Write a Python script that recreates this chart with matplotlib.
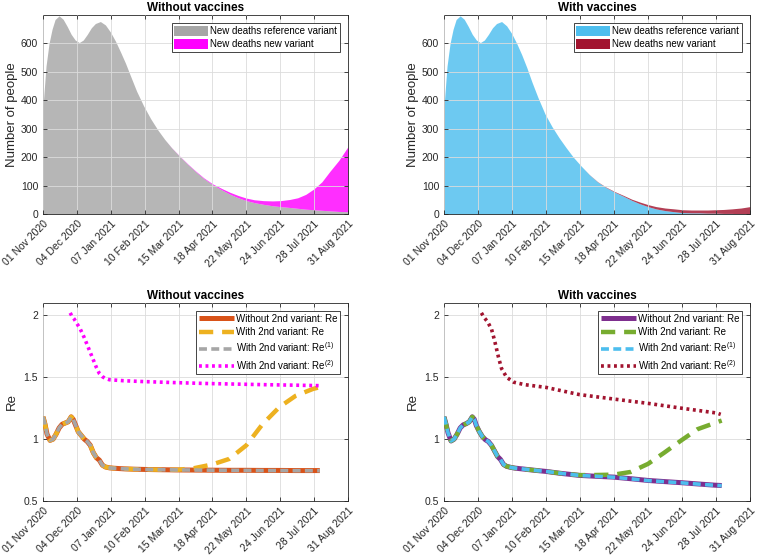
import numpy as np
import pandas as pd
import matplotlib
matplotlib.use("Agg")
import matplotlib.pyplot as plt
from matplotlib.patches import Patch

plt.rcParams['font.family'] = ['Liberation Sans', 'DejaVu Sans']
plt.rcParams['mathtext.fontset'] = 'custom'
plt.rcParams['mathtext.rm'] = 'Liberation Sans'
plt.rcParams['mathtext.it'] = 'Liberation Sans:italic'

# ---- data (days counted from 01 Nov 2020) ----
start = pd.Timestamp('2020-11-01')
end = pd.Timestamp('2021-08-31')

day_deaths = [0, 3, 6, 9, 12, 16, 20, 24, 28, 32, 36, 40, 44, 48, 52, 57, 62, 67,
              72, 77, 82, 87, 93, 100, 107, 114, 121, 128, 136, 144, 152, 160, 169,
              178, 186, 194, 202, 210, 219, 228, 236, 245, 253, 261, 269, 277, 285,
              294, 303]

ref_deaths_novax = [378, 520, 600, 650, 684, 697, 685, 660, 632, 612, 603, 612, 632,
                    655, 670, 677, 665, 640, 608, 570, 530, 485, 432, 380, 335, 296,
                    262, 232, 202, 174, 148, 124, 102, 84, 69, 57, 47, 40, 34, 29, 26,
                    23, 20, 17, 15, 13, 11, 9, 8]
new_deaths_novax = [0, 0, 0, 0, 0, 0, 0, 0, 0, 0, 0, 0, 0, 0, 0, 0, 0, 0, 0, 0, 0,
                    0, 0, 0, 0, 0, 0, 0.5, 1, 1.5, 2, 2.5, 3, 5, 7, 8, 9, 10, 13, 17,
                    21, 28, 37, 52, 73, 100, 139, 180, 229]

ref_deaths_vax = [378, 520, 600, 650, 684, 697, 685, 660, 632, 612, 603, 612, 632,
                  655, 670, 677, 662, 635, 600, 560, 515, 465, 410, 352, 307, 268,
                  233, 200, 168, 138, 113, 94, 77, 62, 48, 36, 26, 18, 12, 8, 5, 4,
                  4, 3, 3, 2, 2, 1, 1]
new_deaths_vax = [0, 0, 0, 0, 0, 0, 0, 0, 0, 0, 0, 0, 0, 0, 0, 0, 0, 0, 0, 0, 0, 0,
                  0, 0, 0, 0, 0, 0, 0, 0.5, 1, 1.5, 2, 3, 4, 6, 7, 8, 9, 10, 10, 10,
                  10, 11, 12, 14, 16, 20, 25]

day_re = [0, 2, 4, 7, 10, 13, 16, 19, 22, 25, 28, 30, 32, 35, 38, 41, 44, 47, 50, 53,
          56, 59, 62, 66, 70, 80, 90, 101, 115, 134, 150, 168, 185, 202, 218, 235,
          251, 268, 275]

re_base_novax = [1.18, 1.12, 1.04, 0.99, 1.00, 1.04, 1.09, 1.12, 1.13, 1.14, 1.18,
                 1.16, 1.12, 1.06, 1.03, 1.00, 0.98, 0.95, 0.89, 0.85, 0.83, 0.79,
                 0.775, 0.768, 0.765, 0.76, 0.757, 0.755, 0.753, 0.751, 0.75, 0.749,
                 0.748, 0.748, 0.747, 0.747, 0.746, 0.746, 0.746]
re_2nd_novax = [1.18, 1.12, 1.04, 0.99, 1.00, 1.04, 1.09, 1.12, 1.13, 1.14, 1.18,
                1.16, 1.12, 1.06, 1.03, 1.00, 0.98, 0.95, 0.89, 0.85, 0.83, 0.79,
                0.775, 0.768, 0.765, 0.76, 0.757, 0.755, 0.753, 0.752, 0.765, 0.795,
                0.84, 0.95, 1.12, 1.26, 1.35, 1.405, 1.42]
re1_novax = [1.18, 1.12, 1.04, 0.99, 1.00, 1.04, 1.09, 1.12, 1.13, 1.14, 1.18,
             1.16, 1.12, 1.06, 1.03, 1.00, 0.98, 0.95, 0.89, 0.85, 0.83, 0.79,
             0.775, 0.768, 0.765, 0.76, 0.757, 0.755, 0.753, 0.751, 0.75, 0.749,
             0.748, 0.747, 0.746, 0.746, 0.745, 0.745, 0.745]
day_re2_novax = [27, 29, 31, 34, 37, 41, 45, 49, 53, 56, 59, 62, 66, 80, 100, 130,
                 160, 190, 220, 250, 275]
re2_novax = [2.02, 1.99, 1.97, 1.93, 1.89, 1.82, 1.74, 1.66, 1.58, 1.53, 1.505,
             1.49, 1.48, 1.472, 1.465, 1.457, 1.45, 1.445, 1.44, 1.436, 1.432]

re_base_vax = [1.18, 1.12, 1.05, 0.985, 1.00, 1.04, 1.09, 1.115, 1.125, 1.14, 1.18,
               1.16, 1.11, 1.06, 1.02, 0.995, 0.98, 0.95, 0.905, 0.86, 0.835, 0.795,
               0.78, 0.772, 0.766, 0.757, 0.748, 0.739, 0.724, 0.707, 0.70, 0.693,
               0.68, 0.666, 0.657, 0.648, 0.638, 0.628, 0.625]
re_2nd_vax = [1.18, 1.12, 1.05, 0.985, 1.00, 1.04, 1.09, 1.115, 1.125, 1.14, 1.18,
              1.16, 1.11, 1.06, 1.02, 0.995, 0.98, 0.95, 0.905, 0.86, 0.835, 0.795,
              0.78, 0.772, 0.766, 0.757, 0.748, 0.739, 0.724, 0.709, 0.71, 0.713,
              0.735, 0.80, 0.89, 0.99, 1.08, 1.13, 1.15]
re1_vax = [1.18, 1.12, 1.05, 0.985, 1.00, 1.04, 1.09, 1.115, 1.125, 1.14, 1.18,
           1.16, 1.11, 1.06, 1.02, 0.995, 0.98, 0.95, 0.905, 0.86, 0.835, 0.795,
           0.78, 0.772, 0.766, 0.757, 0.748, 0.739, 0.724, 0.707, 0.70, 0.692,
           0.679, 0.665, 0.656, 0.647, 0.637, 0.627, 0.624]
day_re2_vax = [37, 40, 43, 47, 50, 54, 57, 62, 69, 80, 101, 134, 168, 202, 236,
               270, 274]
re2_vax = [2.02, 1.98, 1.95, 1.89, 1.80, 1.66, 1.57, 1.50, 1.46, 1.44, 1.418, 1.36,
           1.324, 1.289, 1.249, 1.211, 1.20]

titles = ['Without vaccines', 'With vaccines']
area_labels = ['New deaths reference variant', 'New deaths new variant']
re_labels = ['Without 2nd variant: Re', 'With 2nd variant: Re',
             'With 2nd variant: Re$^{(1)}$', 'With 2nd variant: Re$^{(2)}$']


def to_dates(days):
    return start + pd.to_timedelta(np.asarray(days, dtype=float), unit='D')


tick_dates = pd.date_range(start, end, periods=10)
tick_labels = [d.strftime('%d %b %Y') for d in tick_dates]

edge = '#262626'


def style_axes(ax):
    ax.set_xlim(start, end)
    ax.set_xticks(tick_dates)
    ax.set_xticklabels(tick_labels, rotation=45, ha='right', rotation_mode='anchor',
                       fontsize=7.5, color=edge)
    ax.tick_params(direction='in', top=True, right=True, length=3, width=0.6,
                   colors=edge, labelsize=7.5)
    ax.grid(True, color='#dcdcdc', linewidth=0.6)
    ax.set_axisbelow(False)
    for s in ax.spines.values():
        s.set_color(edge)
        s.set_linewidth(0.6)


fig = plt.figure(figsize=(7.6, 5.6), dpi=100)
W, H = 760, 560


def box(x0, y0, x1, y1):
    return [x0 / W, 1 - y1 / H, (x1 - x0) / W, (y1 - y0) / H]


ax_tl = fig.add_axes(box(43, 15, 348, 214))
ax_tr = fig.add_axes(box(444, 15, 750, 214))
ax_bl = fig.add_axes(box(43, 303, 348, 501))
ax_br = fig.add_axes(box(444, 303, 750, 501))

# ---- top panels: stacked deaths ----
area_sets = [
    (ax_tl, ref_deaths_novax, new_deaths_novax, '#a6a6a6', '#ff00ff'),
    (ax_tr, ref_deaths_vax, new_deaths_vax, '#4dbeee', '#a2142f'),
]
xd = to_dates(day_deaths)
for i, (ax, ref, new, c1, c2) in enumerate(area_sets):
    ref = np.array(ref, dtype=float)
    new = np.array(new, dtype=float)
    ax.fill_between(xd, 0, ref, color=c1, alpha=0.82, linewidth=0, zorder=1)
    ax.fill_between(xd, ref, ref + new, color=c2, alpha=0.82, linewidth=0, zorder=1)
    style_axes(ax)
    ax.set_ylim(0, 700)
    ax.set_yticks(range(0, 700, 100))
    ax.set_ylabel('Number of people', fontsize=9.5, color=edge, labelpad=2)
    ax.set_title(titles[i], fontsize=8.5, fontweight='bold', pad=3)
    handles = [Patch(facecolor=c1, edgecolor='none'), Patch(facecolor=c2, edgecolor='none')]
    leg = ax.legend(handles, area_labels, loc='upper right', fontsize=7,
                    handlelength=3.4, handleheight=1.3, handletextpad=0.3,
                    borderaxespad=0.8, borderpad=0.3, labelspacing=0.25,
                    fancybox=False, framealpha=1, edgecolor=edge)
    leg.get_frame().set_linewidth(0.6)

# ---- bottom panels: Re ----
re_sets = [
    (ax_bl, re_base_novax, re_2nd_novax, re1_novax, day_re2_novax, re2_novax,
     ['#d95319', '#edb120', '#a6a6a6', '#ff00ff']),
    (ax_br, re_base_vax, re_2nd_vax, re1_vax, day_re2_vax, re2_vax,
     ['#7e2f8e', '#77ac30', '#4dbeee', '#a2142f']),
]
xr = to_dates(day_re)
for i, (ax, base, second, r1, d2, r2, cols) in enumerate(re_sets):
    ax.plot(xr, base, color=cols[0], lw=3.6, solid_capstyle='butt',
            label=re_labels[0], zorder=3)
    ax.plot(xr, second, color=cols[1], lw=3.2, dashes=(3.2, 2.0),
            label=re_labels[1], zorder=4)
    ax.plot(xr, r1, color=cols[2], lw=2.6, dashes=(2.2, 1.2),
            label=re_labels[2], zorder=5)
    ax.plot(to_dates(d2), r2, color=cols[3], lw=2.6, dashes=(0.8, 1.0),
            label=re_labels[3], zorder=5)
    style_axes(ax)
    ax.set_ylim(0.5, 2.1)
    ax.set_yticks([0.5, 1, 1.5, 2])
    ax.set_yticklabels(['0.5', '1', '1.5', '2'])
    ax.set_ylabel('Re', fontsize=9.5, color=edge, labelpad=4)
    ax.set_title(titles[i], fontsize=8.5, fontweight='bold', pad=3)
    leg = ax.legend(loc='upper right', fontsize=7, handlelength=3.6,
                    handletextpad=0.2, borderaxespad=0.8, borderpad=0.3,
                    labelspacing=0.35, fancybox=False, framealpha=1,
                    edgecolor=edge)
    leg.get_frame().set_linewidth(0.6)

fig.savefig('out.png', dpi=100)
